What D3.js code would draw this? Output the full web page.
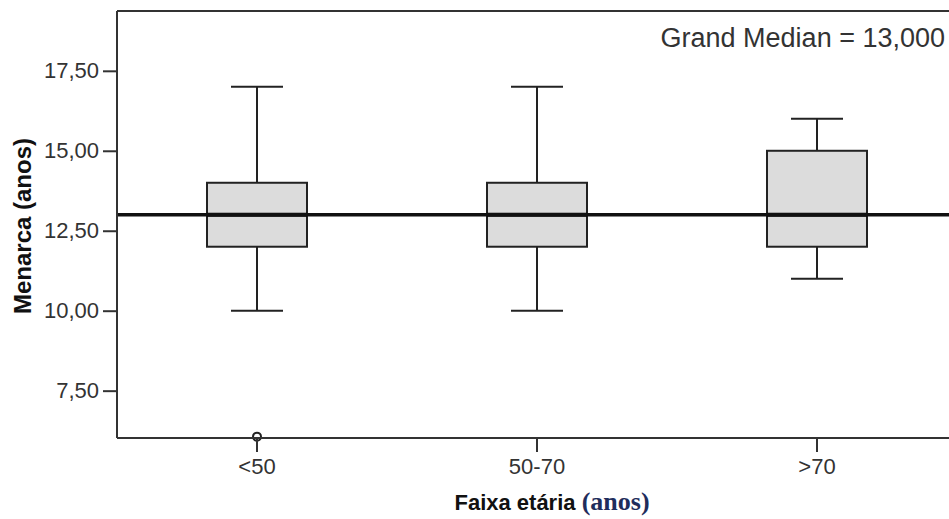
<!DOCTYPE html>
<html>
<head>
<meta charset="utf-8">
<script src="https://cdn.jsdelivr.net/npm/d3@7"></script>
<style>
  body { margin: 0; background: #fff; }
  svg { display: block; }
  .axis path, .axis line { stroke: #333; stroke-width: 2; }
  .axis text { font-family: "Liberation Sans", Arial, sans-serif; font-size: 22px; fill: #333; }
</style>
</head>
<body>
<div id="chart"></div>
<script>
// age groups and box statistics (menarche age, years)
var groups = ["<50", "50-70", ">70"];
var whiskerLow = [10, 10, 11];
var q1 = [12, 12, 12];
var medians = [13, 13, 13];
var q3 = [14, 14, 15];
var whiskerHigh = [17, 17, 16];
var outliers = [[6], [], []];
var grandMedian = 13;
var yTicks = [7.5, 10, 12.5, 15, 17.5];

var width = 949, height = 519;
var plotLeft = 117, plotTop = 11, plotBottom = 438;

var svg = d3.select("#chart").append("svg")
    .attr("width", width)
    .attr("height", height);

var x = d3.scaleBand()
    .domain(groups)
    .range([plotLeft, plotLeft + 840]);

var y = d3.scaleLinear()
    .domain([6.02, 19.37])
    .range([plotBottom, plotTop]);

var pt = d3.formatLocale({decimal: ",", thousands: ".", grouping: [3], currency: ["", ""]});
var fmt2 = pt.format(".2f"), fmt3 = pt.format(".3f");

var boxW = 100, capW = 52;

// top frame line
svg.append("line")
    .attr("x1", plotLeft).attr("x2", width)
    .attr("y1", plotTop).attr("y2", plotTop)
    .attr("stroke", "#333").attr("stroke-width", 2);

var data = groups.map(function(g, i) {
  return {g: g, lo: whiskerLow[i], q1: q1[i], med: medians[i], q3: q3[i], hi: whiskerHigh[i], out: outliers[i]};
});

var box = svg.append("g").selectAll("g")
    .data(data)
  .enter().append("g")
    .attr("transform", function(d) { return "translate(" + (x(d.g) + x.bandwidth() / 2) + ",0)"; });

box.append("line")
    .attr("y1", function(d) { return y(d.hi); })
    .attr("y2", function(d) { return y(d.q3); })
    .attr("stroke", "#222").attr("stroke-width", 2);
box.append("line")
    .attr("y1", function(d) { return y(d.q1); })
    .attr("y2", function(d) { return y(d.lo); })
    .attr("stroke", "#222").attr("stroke-width", 2);
box.selectAll(".cap")
    .data(function(d) { return [d.lo, d.hi]; })
  .enter().append("line")
    .attr("class", "cap")
    .attr("x1", -capW / 2).attr("x2", capW / 2)
    .attr("y1", function(v) { return y(v); })
    .attr("y2", function(v) { return y(v); })
    .attr("stroke", "#222").attr("stroke-width", 2);
box.append("rect")
    .attr("x", -boxW / 2)
    .attr("width", boxW)
    .attr("y", function(d) { return y(d.q3); })
    .attr("height", function(d) { return y(d.q1) - y(d.q3); })
    .attr("fill", "#dcdcdc")
    .attr("stroke", "#222").attr("stroke-width", 2);
box.append("line")
    .attr("x1", -boxW / 2).attr("x2", boxW / 2)
    .attr("y1", function(d) { return y(d.med); })
    .attr("y2", function(d) { return y(d.med); })
    .attr("stroke", "#000").attr("stroke-width", 4);
box.selectAll(".out")
    .data(function(d) { return d.out; })
  .enter().append("circle")
    .attr("class", "out")
    .attr("cy", function(v) { return y(v) - 2; })
    .attr("r", 4)
    .attr("fill", "#fff")
    .attr("stroke", "#222").attr("stroke-width", 2);

// grand median reference line
svg.append("line")
    .attr("x1", plotLeft).attr("x2", width)
    .attr("y1", y(grandMedian)).attr("y2", y(grandMedian))
    .attr("stroke", "#111").attr("stroke-width", 3.5);

svg.append("text")
    .attr("x", 945).attr("y", 47)
    .attr("text-anchor", "end")
    .style("font-family", "Liberation Sans, Arial, sans-serif")
    .style("font-size", "27px")
    .style("fill", "#333")
    .text("Grand Median = " + fmt3(grandMedian));

// axes
svg.append("g")
    .attr("class", "axis")
    .attr("transform", "translate(" + plotLeft + ",0)")
    .call(d3.axisLeft(y).tickValues(yTicks).tickFormat(fmt2).tickSize(14).tickSizeOuter(0).tickPadding(4))
    .call(function(g) { g.select(".domain").attr("d", "M0," + plotTop + "V" + plotBottom); });

svg.append("g")
    .attr("class", "axis")
    .attr("transform", "translate(0," + plotBottom + ")")
    .call(d3.axisBottom(x).tickSize(14).tickSizeOuter(0).tickPadding(6))
    .call(function(g) { g.select(".domain").attr("d", "M" + plotLeft + ",0H" + width); });

// axis titles
svg.append("text")
    .attr("transform", "translate(31,226) rotate(-90)")
    .attr("text-anchor", "middle")
    .style("font-family", "Liberation Sans, Arial, sans-serif")
    .style("font-weight", "bold")
    .style("font-size", "24px")
    .style("fill", "#111")
    .text("Menarca (anos)");

var xt = svg.append("text")
    .attr("x", 552).attr("y", 510)
    .attr("text-anchor", "middle")
    .style("font-weight", "bold")
    .style("fill", "#111");
xt.append("tspan")
    .style("font-family", "Liberation Sans, Arial, sans-serif")
    .style("font-size", "22px")
    .text("Faixa etária ");
xt.append("tspan")
    .style("font-family", "Liberation Serif, serif")
    .style("font-size", "26px")
    .style("fill", "#1f2d5c")
    .text("(anos)");
</script>
</body>
</html>
